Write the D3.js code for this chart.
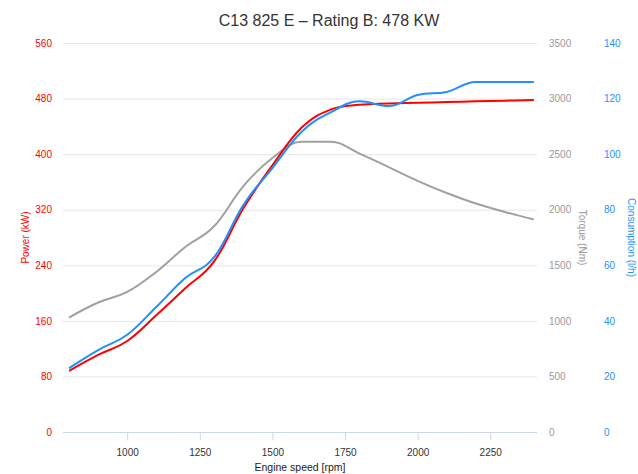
<!DOCTYPE html>
<html>
<head>
<meta charset="utf-8">
<script src="https://cdnjs.cloudflare.com/ajax/libs/d3/7.8.5/d3.min.js"></script>
<style>
  body { margin: 0; background: #fff; }
  text { font-family: "Liberation Sans", Arial, sans-serif; }
</style>
</head>
<body>
<script>
// engine speed (rpm)
const rpm = [800, 900, 1000, 1100, 1200, 1300, 1400, 1500, 1600, 1700, 1800, 1900, 2000, 2100, 2200, 2300, 2400]
// power (kW)
const power = [88, 111, 131, 168, 207, 246, 322, 384, 438, 464, 471, 473, 474, 475, 476, 477, 478]
// torque (Nm)
const torque = [1030, 1165, 1260, 1440, 1665, 1853, 2213, 2465, 2612, 2612, 2505, 2384, 2260, 2150, 2056, 1980, 1912]
// consumption (l/h)
const consumption = [23, 29.5, 35, 45, 55.4, 63, 81.7, 95, 108, 115, 119, 117.3, 121.3, 122.4, 126, 126, 126]

const xTicks = [1000, 1250, 1500, 1750, 2000, 2250]
const powerTicks = [0, 80, 160, 240, 320, 400, 480, 560]
const torqueTicks = [0, 500, 1000, 1500, 2000, 2500, 3000, 3500]
const consTicks = [0, 20, 40, 60, 80, 100, 120, 140]

const w = 638
const h = 474
const pLeft = 63
const pRight = 537
const pTop = 43
const pBottom = 432

const red = '#ff0000'
const blue = '#1e90ff'
const grey = '#a0a0a0'

const svg = d3.select('body').append('svg')
    .attr('width', w)
    .attr('height', h)

// scales
const xScale = d3.scaleLinear().domain([779, 2411]).range([pLeft, pRight])
const yPower = d3.scaleLinear().domain([0, 560]).range([pBottom, pTop])
const yTorque = d3.scaleLinear().domain([0, 3500]).range([pBottom, pTop])
const yCons = d3.scaleLinear().domain([0, 140]).range([pBottom, pTop])

// title
svg.append('text')
    .attr('x', 329)
    .attr('y', 26)
    .attr('text-anchor', 'middle')
    .style('font-size', '16px')
    .style('fill', '#333')
    .text('C13 825 E \u2013 Rating B: 478 KW')

// gridlines
svg.append('g')
    .selectAll('line')
    .data(powerTicks.slice(1))
    .enter()
    .append('line')
    .attr('x1', pLeft)
    .attr('x2', pRight)
    .attr('y1', d => yPower(d) + 0.5)
    .attr('y2', d => yPower(d) + 0.5)
    .style('stroke', '#e6e6e6')

// x axis
const xAxis = d3.axisBottom(xScale).tickValues(xTicks).tickFormat(d3.format('d')).tickSize(8).tickPadding(8)
const gx = svg.append('g')
    .attr('transform', `translate(0,${pBottom + 0.5})`)
    .call(xAxis)
gx.select('.domain').attr('d', `M${pLeft},0H${pRight}`).style('stroke', '#ccd6eb')
gx.selectAll('.tick line').style('stroke', '#ccd6eb')
gx.selectAll('.tick text').style('font-size', '10px').style('fill', '#333').attr('font-family', null)

svg.append('text')
    .attr('x', (pLeft + pRight) / 2)
    .attr('y', 471)
    .attr('text-anchor', 'middle')
    .style('font-size', '10.5px')
    .style('fill', '#222')
    .text('Engine speed [rpm]')

// left axis (power)
const yAxisL = d3.axisLeft(yPower).tickValues(powerTicks).tickFormat(d3.format('d')).tickSize(0).tickPadding(11)
const gl = svg.append('g').attr('transform', `translate(${pLeft},0)`).call(yAxisL)
gl.select('.domain').remove()
gl.selectAll('.tick text').style('font-size', '10px').style('fill', red).attr('font-family', null)

svg.append('text')
    .attr('transform', `translate(29,${(pTop + pBottom) / 2}) rotate(-90)`)
    .attr('text-anchor', 'middle')
    .style('font-size', '10px')
    .style('fill', red)
    .text('Power (kW)')

// right axis (torque)
const yAxisT = d3.axisRight(yTorque).tickValues(torqueTicks).tickFormat(d3.format('d')).tickSize(0).tickPadding(12)
const gt = svg.append('g').attr('transform', `translate(${pRight},0)`).call(yAxisT)
gt.select('.domain').remove()
gt.selectAll('.tick text').style('font-size', '10px').style('fill', '#999').attr('font-family', null)

svg.append('text')
    .attr('transform', `translate(579,${(pTop + pBottom) / 2}) rotate(90)`)
    .attr('text-anchor', 'middle')
    .style('font-size', '10px')
    .style('fill', '#999')
    .text('Torque (Nm)')

// right axis (consumption)
const yAxisC = d3.axisRight(yCons).tickValues(consTicks).tickFormat(d3.format('d')).tickSize(0).tickPadding(0)
const gc = svg.append('g').attr('transform', `translate(604,0)`).call(yAxisC)
gc.select('.domain').remove()
gc.selectAll('.tick text').style('font-size', '10px').style('fill', blue).attr('font-family', null)

svg.append('text')
    .attr('transform', `translate(628,${(pTop + pBottom) / 2}) rotate(90)`)
    .attr('text-anchor', 'middle')
    .style('font-size', '10px')
    .style('fill', blue)
    .text('Consumption (l/h)')

// spline like the original chart: control points at 1/2.5 of the gap,
// flattened where they would overshoot a neighbour
function spline(pts) {
    const p = d3.path()
    p.moveTo(pts[0][0], pts[0][1])
    let prevRight = pts[0]
    for (let i = 1; i < pts.length; i++) {
        const [x, y] = pts[i]
        let lc = [x, y], rc = [x, y]
        if (i < pts.length - 1) {
            const [lx, ly] = pts[i - 1]
            const [nx, ny] = pts[i + 1]
            let lcx = (1.5 * x + lx) / 2.5, lcy = (1.5 * y + ly) / 2.5
            let rcx = (1.5 * x + nx) / 2.5, rcy = (1.5 * y + ny) / 2.5
            let corr = 0
            if (rcx !== lcx) corr = ((rcy - lcy) * (rcx - x)) / (rcx - lcx) + y - rcy
            lcy += corr
            rcy += corr
            if (lcy > ly && lcy > y) { lcy = Math.max(ly, y); rcy = 2 * y - lcy }
            else if (lcy < ly && lcy < y) { lcy = Math.min(ly, y); rcy = 2 * y - lcy }
            if (rcy > ny && rcy > y) { rcy = Math.max(ny, y); lcy = 2 * y - rcy }
            else if (rcy < ny && rcy < y) { rcy = Math.min(ny, y); lcy = 2 * y - rcy }
            lc = [lcx, lcy]
            rc = [rcx, rcy]
        }
        p.bezierCurveTo(prevRight[0], prevRight[1], lc[0], lc[1], x, y)
        prevRight = rc
    }
    return p.toString()
}

// lines
function drawLine(values, yScale, color) {
    const pts = values.map((d, i) => [xScale(rpm[i]), yScale(d)])
    svg.append('path')
        .attr('d', spline(pts))
        .style('fill', 'none')
        .style('stroke', color)
        .style('stroke-width', 2)
}

drawLine(torque, yTorque, grey)
drawLine(power, yPower, red)
drawLine(consumption, yCons, blue)
</script>
</body>
</html>
